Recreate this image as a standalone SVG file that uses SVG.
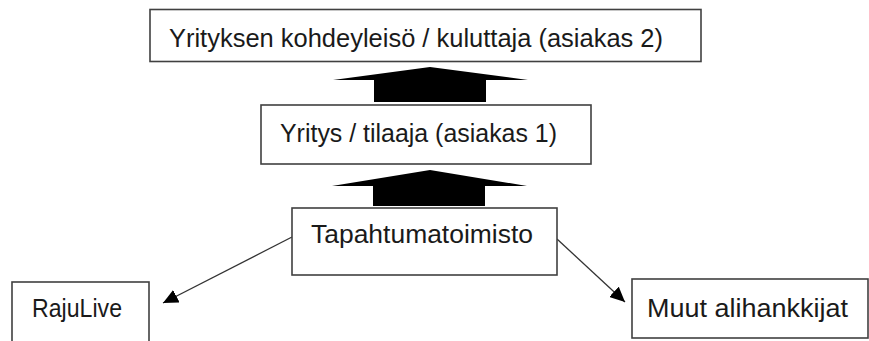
<svg xmlns="http://www.w3.org/2000/svg" width="869" height="341" viewBox="0 0 869 341">
<defs>
<style>
.box{fill:#fff;stroke:#404040;stroke-width:1.6}
.lbl{font-family:"Liberation Sans",Arial,sans-serif;font-size:25px;fill:#1a1a1a}
.con{stroke:#333;stroke-width:1.3;fill:none}
.big{fill:#000}
</style>
<marker id="ah" markerUnits="userSpaceOnUse" markerWidth="16" markerHeight="14" refX="15" refY="7" orient="auto">
<path d="M0,0 L15,7 L0,14 Z" fill="#000"/>
</marker>
</defs>
<rect width="869" height="341" fill="#fff"/>
<g id="connectors">
<polygon class="big" points="430,67 528,80 486,80 486,102 374,102 374,80 333,80"/>
<polygon class="big" points="430,170 527,186 485,186 485,206 373,206 373,186 332,186"/>
<line class="con" x1="292" y1="237" x2="163" y2="303" marker-end="url(#ah)"/>
<line class="con" x1="557" y1="239" x2="625" y2="302" marker-end="url(#ah)"/>
</g>
<g id="node-kohdeyleiso">
<rect class="box" x="150" y="9.5" width="551" height="52"/>
<text class="lbl" x="169" y="47" textLength="494" lengthAdjust="spacingAndGlyphs">Yrityksen kohdeyleisö / kuluttaja (asiakas 2)</text>
</g>
<g id="node-yritys">
<rect class="box" x="261" y="105" width="330" height="59"/>
<text class="lbl" x="280" y="142" textLength="277" lengthAdjust="spacingAndGlyphs">Yritys / tilaaja (asiakas 1)</text>
</g>
<g id="node-tapahtumatoimisto">
<rect class="box" x="292" y="208" width="265" height="67"/>
<text class="lbl" x="311" y="243" textLength="222" lengthAdjust="spacingAndGlyphs">Tapahtumatoimisto</text>
</g>
<g id="node-rajulive">
<rect class="box" x="12" y="282" width="137" height="70"/>
<text class="lbl" x="32" y="317" textLength="90" lengthAdjust="spacingAndGlyphs">RajuLive</text>
</g>
<g id="node-muut">
<rect class="box" x="632" y="279" width="236" height="59"/>
<text class="lbl" x="647" y="317" textLength="201" lengthAdjust="spacingAndGlyphs">Muut alihankkijat</text>
</g>
</svg>
